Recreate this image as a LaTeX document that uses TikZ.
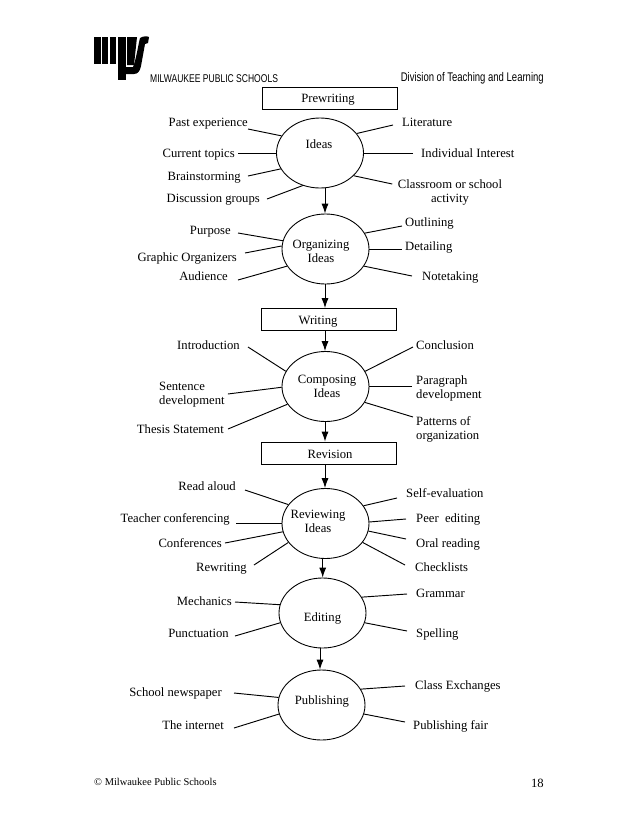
\documentclass[tikz,border=0pt]{standalone}
\usepackage{fontspec}
\usepackage{xcolor}
\usepackage{tikz}
\setmainfont{Liberation Serif}
\newfontfamily\narrowfont[FakeStretch=0.76]{Liberation Sans}
\usetikzlibrary{shapes.geometric,calc,arrows.meta}
\newcommand{\nudged}[3]{\raisebox{#2pt}[0pt][0pt]{\makebox[0pt]{\hspace*{2\dimexpr #1pt\relax}\begin{tabular}{@{}c@{}}#3\end{tabular}}}}
\tikzset{
  topic/.style={ellipse,draw=black,line width=0.75pt,minimum width=87*0.03cm,minimum height=70*0.03cm,inner sep=0pt,font=\fontsize{10.8}{12}\selectfont},
  stage/.style={rectangle,draw=black,line width=0.75pt,minimum width=135*0.03cm,minimum height=22*0.03cm,inner sep=0pt,font=\fontsize{10.8}{12}\selectfont},
  lbl/.style={inner sep=0pt,text height=10.4pt,text depth=2pt,font=\fontsize{10.8}{12}\selectfont},
  lbltwo/.style={inner sep=0pt,align=left,font=\fontsize{10.8}{12}\selectfont},
  spoke/.style={line width=0.8pt},
  flow/.style={line width=0.8pt,-{Latex[length=8.5pt,width=6pt]}},
}
\begin{document}
\begin{tikzpicture}[x=0.03cm,y=-0.03cm]
  \useasboundingbox (0,0) rectangle (638,826);
  % logo
  \fill[black] (94,37) rectangle (101,64);
  \fill[black] (102,37) rectangle (108,64);
  \fill[black] (110,37) rectangle (116,64);
  \fill[black] (118,37) rectangle (126,80);
  \fill[black] (127,37) -- (137,37) -- (134,65) -- (127,65) -- cycle;
  \fill[black] (140,38) .. controls (143,36) and (147,36) .. (149,37) -- (148,43) -- (145,44) -- (141,66) .. controls (140,71) and (138,74) .. (134,74) -- (126,74) -- (126,67) -- (133,67) .. controls (136,60) and (138,46) .. (140,38);

  % header
  \node[inner sep=0pt,anchor=west,font=\narrowfont\fontsize{9.6}{12}\selectfont] (district) at (150,78.5) {MILWAUKEE PUBLIC SCHOOLS};
  \node[inner sep=0pt,anchor=east,font=\narrowfont\fontsize{10.7}{12}\selectfont] (division) at (544,78.5) {Division of Teaching and Learning};

  % stages
  \node[stage] (prewriting) at (330,98) {\nudged{-1.7}{-4.2}{Prewriting}};
  \node[topic] (ideas) at (320,153) {\nudged{-0.9}{3.5}{Ideas}};
  \node[topic] (organizing) at (325.5,249) {\nudged{-3.8}{-5.9}{Organizing\\Ideas}};
  \node[stage] (writing) at (329,319.5) {\nudged{-9.4}{-4.6}{Writing}};
  \node[topic] (composing) at (325.5,386.5) {\nudged{1.3}{-3.8}{Composing\\Ideas}};
  \node[stage] (revision) at (329,453) {\nudged{0.9}{-5.1}{Revision}};
  \node[topic] (reviewing) at (325.5,523.5) {\nudged{-6.4}{-2.1}{Reviewing\\Ideas}};
  \node[topic] (editing) at (322.5,613) {\nudged{0}{-7.6}{Editing}};
  \node[topic] (publishing) at (321.5,705) {\nudged{0.4}{0.1}{Publishing}};

  % flow
  \draw[flow] (ideas.south -| 325,0) ++(0,-0.5) -- (organizing.north -| 325,0);
  \draw[flow] (organizing.south -| 325,0) -- (writing.north -| 325,0);
  \draw[flow] (writing.south -| 325,0) -- (composing.north -| 325,0);
  \draw[flow] (composing.south -| 325,0) -- (revision.north -| 325,0);
  \draw[flow] (revision.south -| 325,0) -- (reviewing.north -| 325,0);
  \draw[flow] (reviewing.south -| 322.7,0) -- (editing.north -| 322.7,0);
  \draw[flow] (editing.south -| 320,0) -- (publishing.north -| 320,0);

  % ideas
  \node[lbl,anchor=east] (past) at (248,122) {Past experience};
  \node[lbl,anchor=east] (current) at (235,153) {Current topics};
  \node[lbl,anchor=east] (brain) at (241,176) {Brainstorming};
  \node[lbl,anchor=east] (discuss) at (260,198) {Discussion groups};
  \node[lbl,anchor=west] (literature) at (402,122) {Literature};
  \node[lbl,anchor=west] (interest) at (421,153) {Individual Interest};
  \node[lbltwo,align=center] (classroom) at (450,192.5) {Classroom or school\\activity};
  \draw[spoke] ($(past.east)+(0,7)$) -- (ideas.156);
  \draw[spoke] ($(current.east)+(3,0)$) -- (ideas.180);
  \draw[spoke] ($(brain.east)+(7,0)$) -- (ideas.202);
  \draw[spoke] ($(discuss.east)+(7,1)$) -- (ideas.242);
  \draw[spoke] ($(literature.west)+(-9,3)$) -- (ideas.28);
  \draw[spoke] ($(interest.west)+(-8,0)$) -- (ideas.0);
  \draw[spoke] ($(classroom.west)+(-5.5,-8.5)$) -- (ideas.-34);

  % organizing
  \node[lbl,anchor=east] (purpose) at (231,230) {Purpose};
  \node[lbl,anchor=east] (graphic) at (237,257) {Graphic Organizers};
  \node[lbl,anchor=east] (audience) at (228,276) {Audience};
  \node[lbl,anchor=west] (outlining) at (405,222) {Outlining};
  \node[lbl,anchor=west] (detailing) at (405,246) {Detailing};
  \node[lbl,anchor=west] (notetaking) at (422,276) {Notetaking};
  \draw[spoke] ($(purpose.east)+(7,3)$) -- (organizing.169);
  \draw[spoke] ($(graphic.east)+(8,-4)$) -- (organizing.176);
  \draw[spoke] ($(audience.east)+(10,4)$) -- (organizing.204);
  \draw[spoke] ($(outlining.west)+(-3,4)$) -- (organizing.22);
  \draw[spoke] ($(detailing.west)+(-3,3)$) -- (organizing.0);
  \draw[spoke] ($(notetaking.west)+(-10,0)$) -- (organizing.-24);

  % composing
  \node[lbl,anchor=east] (intro) at (240,345) {Introduction};
  \node[lbltwo,anchor=west] (sentence) at (159,395) {Sentence\\development};
  \node[lbl,anchor=east] (thesis) at (224,429) {Thesis Statement};
  \node[lbl,anchor=west] (conclusion) at (416,345) {Conclusion};
  \node[lbltwo,anchor=west] (paragraph) at (416,388) {Paragraph\\development};
  \node[lbltwo,anchor=west] (patterns) at (416,429) {Patterns of\\organization};
  \draw[spoke] ($(intro.east)+(8,2)$) -- (composing.159);
  \draw[spoke] ($(sentence.east)+(3,-1)$) -- (composing.181);
  \draw[spoke] ($(thesis.east)+(4,0)$) -- (composing.205);
  \draw[spoke] ($(conclusion.west)+(-3,2)$) -- (composing.21);
  \draw[spoke] ($(paragraph.west)+(-4,-1.5)$) -- (composing.0);
  \draw[spoke] ($(patterns.west)+(-3,-12)$) -- (composing.-22);

  % reviewing
  \node[lbl,anchor=east] (readaloud) at (236,486) {Read aloud};
  \node[lbl,anchor=east] (teacher) at (230,518) {Teacher conferencing};
  \node[lbl,anchor=east] (conferences) at (222,543) {Conferences};
  \node[lbl,anchor=east] (rewriting) at (247,567) {Rewriting};
  \node[lbl,anchor=west] (selfeval) at (406,493) {Self-evaluation};
  \node[lbl,anchor=west] (peer) at (416,518) {Peer\ \ editing};
  \node[lbl,anchor=west] (oral) at (416,543) {Oral reading};
  \node[lbl,anchor=west] (checklists) at (415,567) {Checklists};
  \draw[spoke] ($(readaloud.east)+(9,4)$) -- (reviewing.153);
  \draw[spoke] ($(teacher.east)+(6,5.5)$) -- (reviewing.180);
  \draw[spoke] ($(conferences.east)+(3,0)$) -- (reviewing.191);
  \draw[spoke] ($(rewriting.east)+(7,-2)$) -- (reviewing.207);
  \draw[spoke] ($(selfeval.west)+(-9,5)$) -- (reviewing.25);
  \draw[spoke] ($(peer.west)+(-10,1)$) -- (reviewing.2);
  \draw[spoke] ($(oral.west)+(-10,-4)$) -- (reviewing.-10);
  \draw[spoke] ($(checklists.west)+(-10,-2)$) -- (reviewing.-27);

  % editing
  \node[lbl,anchor=east] (mechanics) at (232,601) {Mechanics};
  \node[lbl,anchor=east] (punctuation) at (229,633) {Punctuation};
  \node[lbl,anchor=west] (grammar) at (416,593) {Grammar};
  \node[lbl,anchor=west] (spelling) at (416,633) {Spelling};
  \draw[spoke] ($(mechanics.east)+(3,1)$) -- (editing.169);
  \draw[spoke] ($(punctuation.east)+(6,3)$) -- (editing.193);
  \draw[spoke] ($(grammar.west)+(-9,1)$) -- (editing.22);
  \draw[spoke] ($(spelling.west)+(-9,-2)$) -- (editing.-13);

  % publishing
  \node[lbl,anchor=east] (newspaper) at (222,692) {School newspaper};
  \node[lbl,anchor=east] (internet) at (224,725) {The internet};
  \node[lbl,anchor=west] (exchanges) at (415,685) {Class Exchanges};
  \node[lbl,anchor=west] (fair) at (413,725) {Publishing fair};
  \draw[spoke] ($(newspaper.east)+(12,1)$) -- (publishing.170);
  \draw[spoke] ($(internet.east)+(10,3)$) -- (publishing.192);
  \draw[spoke] ($(exchanges.west)+(-10,1)$) -- (publishing.22);
  \draw[spoke] ($(fair.west)+(-8,-3)$) -- (publishing.-12);

  % footer
  \node[inner sep=0pt,anchor=west,font=\fontsize{8.9}{10}\selectfont] (copyright) at (94,782) {© Milwaukee Public Schools};
  \node[inner sep=0pt,anchor=east,font=\fontsize{10.8}{12}\selectfont] (pagenum) at (544,783) {18};
\end{tikzpicture}
\end{document}
